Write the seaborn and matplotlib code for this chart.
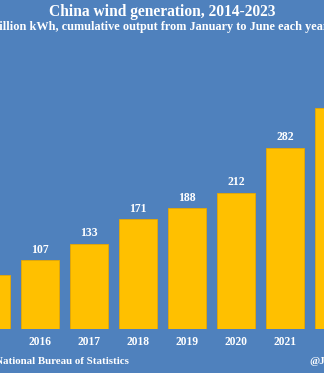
import matplotlib
matplotlib.use("Agg")
import matplotlib.pyplot as plt
import seaborn as sns
import pandas as pd

years = ["2014", "2015", "2016", "2017", "2018", "2019", "2020", "2021", "2022", "2023"]
output = [77, 85, 107, 133, 171, 188, 212, 282, 344, 428]

title = "China wind generation, 2014-2023"
subtitle = "Billion kWh, cumulative output from January to June each year"
source = "Source: National Bureau of Statistics"
handle = "@JKempEnergy"

df = pd.DataFrame({"year": years, "output": output})

BG = "#4F81BD"
BAR = "#FFC000"

sns.set_theme(style="white")
plt.rcParams["font.family"] = ["Liberation Serif", "DejaVu Serif"]

W, H = 324, 373
fig = plt.figure(figsize=(W / 100, H / 100), dpi=100, facecolor=BG)
ax = fig.add_axes([0, 44 / H, 1, 329 / H])
ax.set_facecolor(BG)

sns.barplot(data=df, x="year", y="output", color=BAR, saturation=1,
            width=0.776, edgecolor="#E8A800", linewidth=0.6, ax=ax)

ax.set_xlim(2 - 40 / 49, 2 + 284 / 49)
ax.set_ylim(0, 329 / 0.641)
for s in ax.spines.values():
    s.set_visible(False)
ax.set_yticks([])
ax.set_xlabel("")
ax.set_ylabel("")
ax.tick_params(axis="x", length=0, pad=5.0, labelsize=8.3, labelcolor="white")
for lbl in ax.get_xticklabels():
    lbl.set_fontweight("bold")

ax.bar_label(ax.containers[0], labels=[str(v) for v in output], padding=3.5,
             color="white", fontsize=8.5, fontweight="bold")

fig.text(0.5, 1 - 11.5 / H, title, ha="center", va="center", color="white",
         fontsize=11.2, fontweight="bold")
fig.text(-9 / W, 1 - 27 / H, subtitle, ha="left", va="center", color="white",
         fontsize=8.8, fontweight="bold")
fig.text(-43 / W, 1 - 361 / H, source, ha="left", va="center", color="white",
         fontsize=7.8, fontweight="bold")
fig.text(309 / W, 1 - 361 / H, handle, ha="left", va="center", color="white",
         fontsize=7.8, fontweight="bold")

fig.savefig("out.png", dpi=100, facecolor=BG)
